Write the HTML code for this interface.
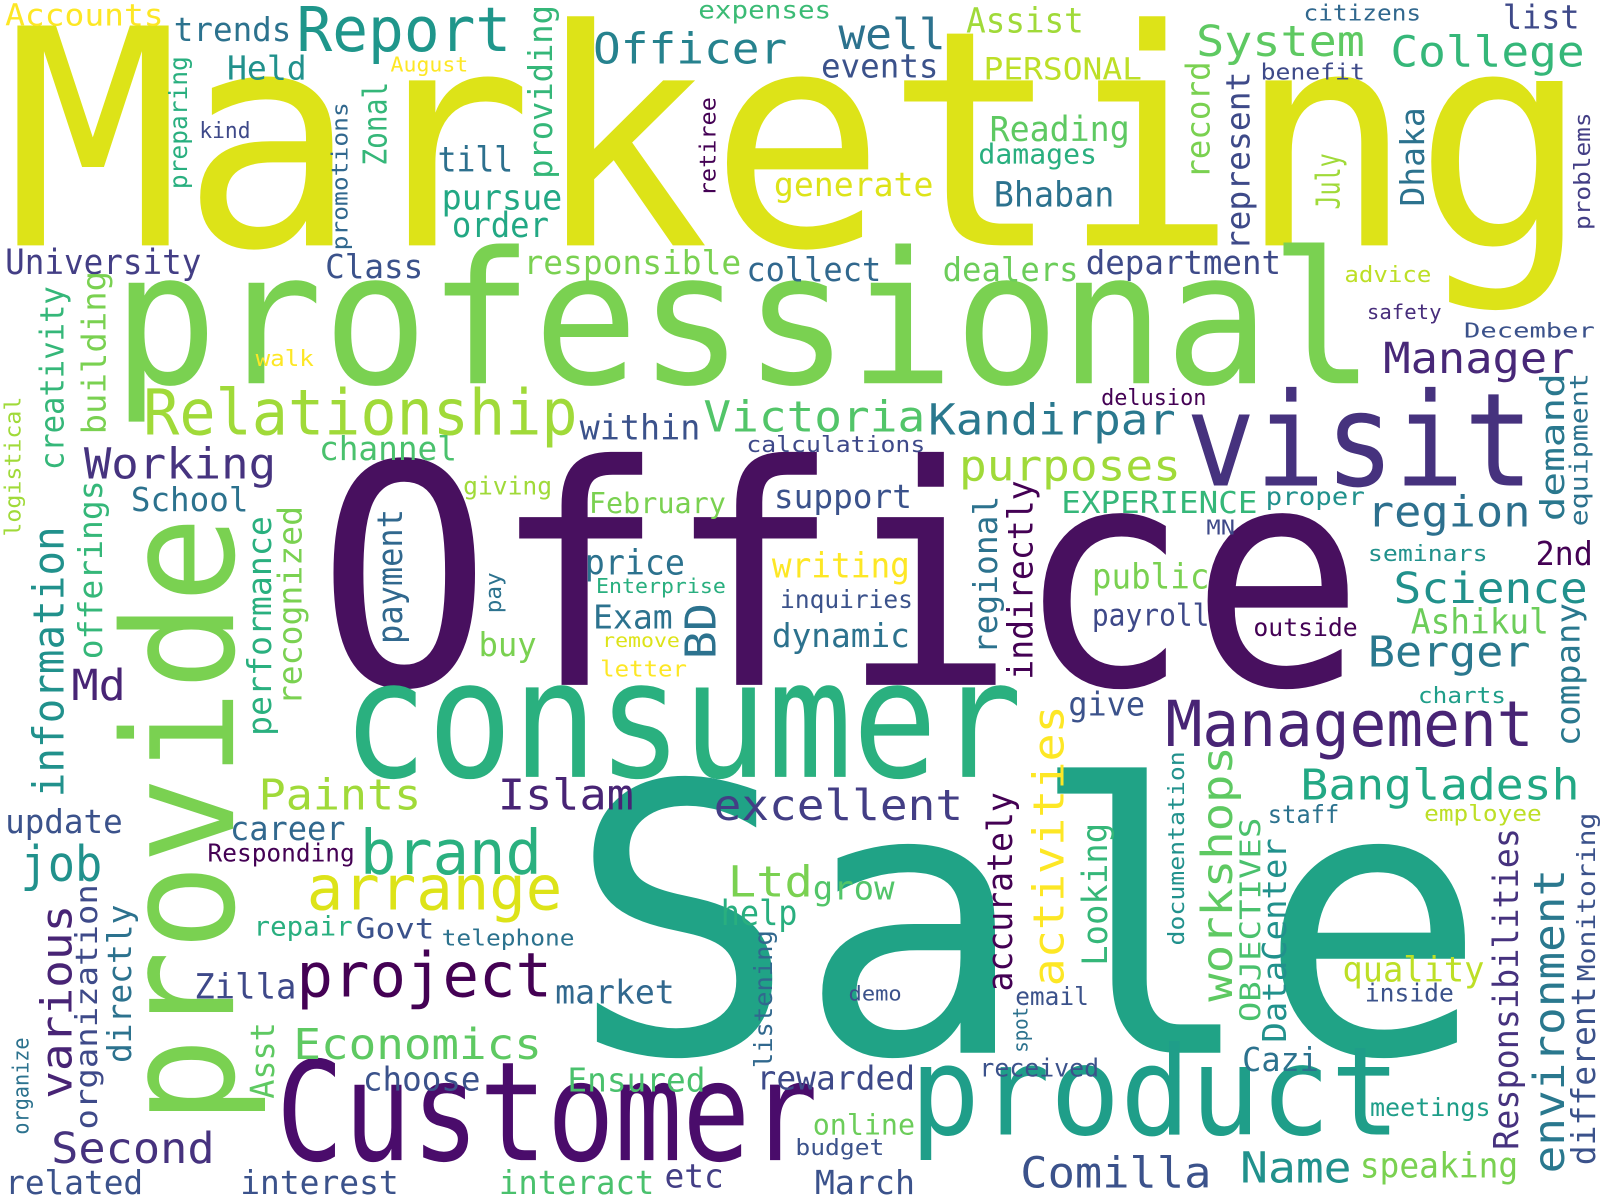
<!DOCTYPE html>
<html><head><meta charset="utf-8"><style>
html,body{margin:0;padding:0;background:#fff;width:1600px;height:1200px;overflow:hidden}
svg{display:block}
text{font-family:"DejaVu Sans Mono","Liberation Mono",monospace}
</style></head><body>
<svg width="1600" height="1200" viewBox="0 0 1565 1174" preserveAspectRatio="none">
<rect width="1565" height="1174" fill="#fff"/>
<g>
<text x="5" y="240" font-size="295" textLength="1550" lengthAdjust="spacingAndGlyphs" fill="#dde318">Marketing</text>
<text x="310" y="670" font-size="300" textLength="1025" lengthAdjust="spacingAndGlyphs" fill="#48105f">Office</text>
<text x="555" y="1030" font-size="365" textLength="900" lengthAdjust="spacingAndGlyphs" fill="#20a386">Sale</text>
<text x="110" y="375" font-size="180" textLength="1235" lengthAdjust="spacingAndGlyphs" fill="#7ad151">professional</text>
<text x="335" y="760" font-size="160" textLength="665" lengthAdjust="spacingAndGlyphs" fill="#2ab07f">consumer</text>
<text x="270" y="1135" font-size="135" textLength="530" lengthAdjust="spacingAndGlyphs" fill="#4a0c6b">Customer</text>
<text x="890" y="1110" font-size="120" textLength="480" lengthAdjust="spacingAndGlyphs" fill="#1f9e89">product</text>
<text x="1160" y="475" font-size="127" textLength="340" lengthAdjust="spacingAndGlyphs" fill="#46327e">visit</text>
<text x="1140" y="730" font-size="62" textLength="360" lengthAdjust="spacingAndGlyphs" fill="#482475">Management</text>
<text x="140" y="425" font-size="62" textLength="425" lengthAdjust="spacingAndGlyphs" fill="#a0da39">Relationship</text>
<text x="290" y="50" font-size="60" textLength="210" lengthAdjust="spacingAndGlyphs" fill="#1f968b">Report</text>
<text x="580" y="62" font-size="42" textLength="190" lengthAdjust="spacingAndGlyphs" fill="#26828e">Officer</text>
<text x="820" y="48" font-size="42" textLength="105" lengthAdjust="spacingAndGlyphs" fill="#2c728e">well</text>
<text x="945" y="32" font-size="34" textLength="115" lengthAdjust="spacingAndGlyphs" fill="#a0da39">Assist</text>
<text x="683" y="18" font-size="24" textLength="130" lengthAdjust="spacingAndGlyphs" fill="#3bbb75">expenses</text>
<text x="1275" y="20" font-size="22" textLength="115" lengthAdjust="spacingAndGlyphs" fill="#31688e">citizens</text>
<text x="1470" y="28" font-size="32" textLength="75" lengthAdjust="spacingAndGlyphs" fill="#3e4989">list</text>
<text x="1170" y="55" font-size="42" textLength="165" lengthAdjust="spacingAndGlyphs" fill="#5ec962">System</text>
<text x="1360" y="65" font-size="42" textLength="190" lengthAdjust="spacingAndGlyphs" fill="#35b779">College</text>
<text x="5" y="25" font-size="30" textLength="155" lengthAdjust="spacingAndGlyphs" fill="#fde725">Accounts</text>
<text x="170" y="40" font-size="32" textLength="115" lengthAdjust="spacingAndGlyphs" fill="#2c728e">trends</text>
<text x="222" y="78" font-size="32" textLength="78" lengthAdjust="spacingAndGlyphs" fill="#21918c">Held</text>
<text x="382" y="70" font-size="20" textLength="76" lengthAdjust="spacingAndGlyphs" fill="#fde725">August</text>
<text x="803" y="76" font-size="32" textLength="115" lengthAdjust="spacingAndGlyphs" fill="#3b528b">events</text>
<text x="962" y="78" font-size="30" textLength="155" lengthAdjust="spacingAndGlyphs" fill="#bddf26">PERSONAL</text>
<text x="1233" y="78" font-size="22" textLength="102" lengthAdjust="spacingAndGlyphs" fill="#3e4a89">benefit</text>
<text x="195" y="135" font-size="22" textLength="50" lengthAdjust="spacingAndGlyphs" fill="#3e4989">kind</text>
<text x="428" y="168" font-size="34" textLength="74" lengthAdjust="spacingAndGlyphs" fill="#2d708e">till</text>
<text x="968" y="138" font-size="34" textLength="137" lengthAdjust="spacingAndGlyphs" fill="#5ec962">Reading</text>
<text x="957" y="160" font-size="27" textLength="116" lengthAdjust="spacingAndGlyphs" fill="#29af7f">damages</text>
<text x="757" y="192" font-size="32" textLength="156" lengthAdjust="spacingAndGlyphs" fill="#dde318">generate</text>
<text x="972" y="202" font-size="34" textLength="118" lengthAdjust="spacingAndGlyphs" fill="#2c728e">Bhaban</text>
<text x="432" y="205" font-size="34" textLength="118" lengthAdjust="spacingAndGlyphs" fill="#22a884">pursue</text>
<text x="442" y="232" font-size="34" textLength="95" lengthAdjust="spacingAndGlyphs" fill="#22a884">order</text>
<text x="5" y="268" font-size="34" textLength="192" lengthAdjust="spacingAndGlyphs" fill="#433e85">University</text>
<text x="318" y="272" font-size="32" textLength="96" lengthAdjust="spacingAndGlyphs" fill="#3b528b">Class</text>
<text x="512" y="268" font-size="32" textLength="213" lengthAdjust="spacingAndGlyphs" fill="#7ad151">responsible</text>
<text x="730" y="275" font-size="32" textLength="132" lengthAdjust="spacingAndGlyphs" fill="#31688e">collect</text>
<text x="922" y="275" font-size="32" textLength="133" lengthAdjust="spacingAndGlyphs" fill="#6ccd5a">dealers</text>
<text x="1062" y="268" font-size="32" textLength="191" lengthAdjust="spacingAndGlyphs" fill="#3e4a89">department</text>
<text x="1315" y="276" font-size="22" textLength="85" lengthAdjust="spacingAndGlyphs" fill="#bddf26">advice</text>
<text x="1337" y="312" font-size="20" textLength="73" lengthAdjust="spacingAndGlyphs" fill="#472d7b">safety</text>
<text x="1432" y="330" font-size="20" textLength="128" lengthAdjust="spacingAndGlyphs" fill="#3b528b">December</text>
<text x="1353" y="365" font-size="42" textLength="187" lengthAdjust="spacingAndGlyphs" fill="#482878">Manager</text>
<text x="250" y="358" font-size="22" textLength="57" lengthAdjust="spacingAndGlyphs" fill="#fde725">walk</text>
<text x="1077" y="396" font-size="22" textLength="103" lengthAdjust="spacingAndGlyphs" fill="#440154">delusion</text>
<text x="908" y="425" font-size="42" textLength="242" lengthAdjust="spacingAndGlyphs" fill="#2a788e">Kandirpar</text>
<text x="688" y="422" font-size="42" textLength="217" lengthAdjust="spacingAndGlyphs" fill="#52c569">Victoria</text>
<text x="567" y="430" font-size="34" textLength="118" lengthAdjust="spacingAndGlyphs" fill="#3b528b">within</text>
<text x="730" y="442" font-size="22" textLength="175" lengthAdjust="spacingAndGlyphs" fill="#3e4989">calculations</text>
<text x="312" y="450" font-size="32" textLength="135" lengthAdjust="spacingAndGlyphs" fill="#4ac16d">channel</text>
<text x="82" y="468" font-size="42" textLength="188" lengthAdjust="spacingAndGlyphs" fill="#46337f">Working</text>
<text x="938" y="470" font-size="42" textLength="217" lengthAdjust="spacingAndGlyphs" fill="#a0da39">purposes</text>
<text x="453" y="484" font-size="24" textLength="87" lengthAdjust="spacingAndGlyphs" fill="#a0da39">giving</text>
<text x="128" y="500" font-size="32" textLength="115" lengthAdjust="spacingAndGlyphs" fill="#2c728e">School</text>
<text x="576" y="502" font-size="28" textLength="134" lengthAdjust="spacingAndGlyphs" fill="#7ad151">February</text>
<text x="757" y="497" font-size="32" textLength="135" lengthAdjust="spacingAndGlyphs" fill="#3b528b">support</text>
<text x="1038" y="502" font-size="30" textLength="192" lengthAdjust="spacingAndGlyphs" fill="#35b779">EXPERIENCE</text>
<text x="1238" y="494" font-size="24" textLength="97" lengthAdjust="spacingAndGlyphs" fill="#21918c">proper</text>
<text x="1337" y="515" font-size="42" textLength="160" lengthAdjust="spacingAndGlyphs" fill="#2d708e">region</text>
<text x="1180" y="523" font-size="20" textLength="28" lengthAdjust="spacingAndGlyphs" fill="#3e4989">MN</text>
<text x="1338" y="549" font-size="22" textLength="117" lengthAdjust="spacingAndGlyphs" fill="#21918c">seminars</text>
<text x="1502" y="553" font-size="32" textLength="56" lengthAdjust="spacingAndGlyphs" fill="#440154">2nd</text>
<text x="755" y="565" font-size="34" textLength="135" lengthAdjust="spacingAndGlyphs" fill="#fde725">writing</text>
<text x="572" y="562" font-size="34" textLength="98" lengthAdjust="spacingAndGlyphs" fill="#2c728e">price</text>
<text x="1068" y="576" font-size="34" textLength="115" lengthAdjust="spacingAndGlyphs" fill="#7ad151">public</text>
<text x="583" y="580" font-size="20" textLength="127" lengthAdjust="spacingAndGlyphs" fill="#29af7f">Enterprise</text>
<text x="763" y="595" font-size="24" textLength="130" lengthAdjust="spacingAndGlyphs" fill="#3b528b">inquiries</text>
<text x="1363" y="590" font-size="42" textLength="190" lengthAdjust="spacingAndGlyphs" fill="#21918c">Science</text>
<text x="580" y="615" font-size="32" textLength="78" lengthAdjust="spacingAndGlyphs" fill="#2c728e">Exam</text>
<text x="589" y="633" font-size="18" textLength="76" lengthAdjust="spacingAndGlyphs" fill="#dde318">remove</text>
<text x="755" y="633" font-size="32" textLength="135" lengthAdjust="spacingAndGlyphs" fill="#2c728e">dynamic</text>
<text x="1068" y="612" font-size="30" textLength="115" lengthAdjust="spacingAndGlyphs" fill="#3e4989">payroll</text>
<text x="1380" y="620" font-size="34" textLength="135" lengthAdjust="spacingAndGlyphs" fill="#6ccd5a">Ashikul</text>
<text x="1226" y="622" font-size="24" textLength="102" lengthAdjust="spacingAndGlyphs" fill="#440154">outside</text>
<text x="468" y="642" font-size="32" textLength="57" lengthAdjust="spacingAndGlyphs" fill="#7ad151">buy</text>
<text x="587" y="662" font-size="22" textLength="85" lengthAdjust="spacingAndGlyphs" fill="#fde725">letter</text>
<text x="1338" y="652" font-size="42" textLength="159" lengthAdjust="spacingAndGlyphs" fill="#2a788e">Berger</text>
<text x="70" y="685" font-size="42" textLength="53" lengthAdjust="spacingAndGlyphs" fill="#482475">Md</text>
<text x="1387" y="688" font-size="22" textLength="86" lengthAdjust="spacingAndGlyphs" fill="#1f9e89">charts</text>
<text x="1045" y="700" font-size="32" textLength="75" lengthAdjust="spacingAndGlyphs" fill="#3b528b">give</text>
<text x="253" y="792" font-size="42" textLength="159" lengthAdjust="spacingAndGlyphs" fill="#a0da39">Paints</text>
<text x="487" y="792" font-size="42" textLength="133" lengthAdjust="spacingAndGlyphs" fill="#482475">Islam</text>
<text x="698" y="802" font-size="42" textLength="244" lengthAdjust="spacingAndGlyphs" fill="#433e85">excellent</text>
<text x="1272" y="782" font-size="42" textLength="273" lengthAdjust="spacingAndGlyphs" fill="#22a884">Bangladesh</text>
<text x="5" y="815" font-size="32" textLength="115" lengthAdjust="spacingAndGlyphs" fill="#3b528b">update</text>
<text x="1240" y="805" font-size="24" textLength="70" lengthAdjust="spacingAndGlyphs" fill="#2c728e">staff</text>
<text x="1393" y="803" font-size="22" textLength="115" lengthAdjust="spacingAndGlyphs" fill="#bddf26">employee</text>
<text x="225" y="822" font-size="32" textLength="113" lengthAdjust="spacingAndGlyphs" fill="#31688e">career</text>
<text x="352" y="855" font-size="60" textLength="178" lengthAdjust="spacingAndGlyphs" fill="#2ab07f">brand</text>
<text x="203" y="843" font-size="24" textLength="144" lengthAdjust="spacingAndGlyphs" fill="#440154">Responding</text>
<text x="20" y="862" font-size="48" textLength="80" lengthAdjust="spacingAndGlyphs" fill="#21918c">job</text>
<text x="300" y="890" font-size="60" textLength="250" lengthAdjust="spacingAndGlyphs" fill="#dde318">arrange</text>
<text x="712" y="877" font-size="42" textLength="83" lengthAdjust="spacingAndGlyphs" fill="#7ad151">Ltd</text>
<text x="795" y="880" font-size="32" textLength="80" lengthAdjust="spacingAndGlyphs" fill="#52c569">grow</text>
<text x="705" y="905" font-size="34" textLength="75" lengthAdjust="spacingAndGlyphs" fill="#29af7f">help</text>
<text x="248" y="915" font-size="26" textLength="97" lengthAdjust="spacingAndGlyphs" fill="#29af7f">repair</text>
<text x="348" y="918" font-size="28" textLength="77" lengthAdjust="spacingAndGlyphs" fill="#3b528b">Govt</text>
<text x="432" y="925" font-size="22" textLength="130" lengthAdjust="spacingAndGlyphs" fill="#2c728e">telephone</text>
<text x="290" y="975" font-size="60" textLength="250" lengthAdjust="spacingAndGlyphs" fill="#440154">project</text>
<text x="190" y="977" font-size="34" textLength="100" lengthAdjust="spacingAndGlyphs" fill="#3e4989">Zilla</text>
<text x="543" y="982" font-size="32" textLength="117" lengthAdjust="spacingAndGlyphs" fill="#31688e">market</text>
<text x="830" y="979" font-size="20" textLength="52" lengthAdjust="spacingAndGlyphs" fill="#3b528b">demo</text>
<text x="1313" y="960" font-size="34" textLength="139" lengthAdjust="spacingAndGlyphs" fill="#bddf26">quality</text>
<text x="1335" y="980" font-size="24" textLength="87" lengthAdjust="spacingAndGlyphs" fill="#3b528b">inside</text>
<text x="993" y="983" font-size="24" textLength="72" lengthAdjust="spacingAndGlyphs" fill="#3b528b">email</text>
<text x="287" y="1036" font-size="42" textLength="243" lengthAdjust="spacingAndGlyphs" fill="#5ec962">Economics</text>
<text x="355" y="1067" font-size="32" textLength="115" lengthAdjust="spacingAndGlyphs" fill="#3b528b">choose</text>
<text x="555" y="1068" font-size="32" textLength="135" lengthAdjust="spacingAndGlyphs" fill="#4ac16d">Ensured</text>
<text x="740" y="1066" font-size="32" textLength="155" lengthAdjust="spacingAndGlyphs" fill="#3e4a89">rewarded</text>
<text x="958" y="1053" font-size="24" textLength="117" lengthAdjust="spacingAndGlyphs" fill="#3b528b">received</text>
<text x="1215" y="1048" font-size="32" textLength="75" lengthAdjust="spacingAndGlyphs" fill="#2c728e">Cazi</text>
<text x="1340" y="1092" font-size="24" textLength="118" lengthAdjust="spacingAndGlyphs" fill="#1f9e89">meetings</text>
<text x="795" y="1110" font-size="28" textLength="100" lengthAdjust="spacingAndGlyphs" fill="#6ccd5a">online</text>
<text x="778" y="1130" font-size="22" textLength="87" lengthAdjust="spacingAndGlyphs" fill="#3b528b">budget</text>
<text x="50" y="1138" font-size="42" textLength="160" lengthAdjust="spacingAndGlyphs" fill="#46327e">Second</text>
<text x="998" y="1162" font-size="42" textLength="187" lengthAdjust="spacingAndGlyphs" fill="#3b528b">Comilla</text>
<text x="1213" y="1157" font-size="42" textLength="109" lengthAdjust="spacingAndGlyphs" fill="#21918c">Name</text>
<text x="1330" y="1152" font-size="34" textLength="155" lengthAdjust="spacingAndGlyphs" fill="#7ad151">speaking</text>
<text x="5" y="1168" font-size="32" textLength="135" lengthAdjust="spacingAndGlyphs" fill="#3b528b">related</text>
<text x="235" y="1168" font-size="32" textLength="155" lengthAdjust="spacingAndGlyphs" fill="#3b528b">interest</text>
<text x="488" y="1168" font-size="32" textLength="152" lengthAdjust="spacingAndGlyphs" fill="#4ac16d">interact</text>
<text x="650" y="1162" font-size="32" textLength="58" lengthAdjust="spacingAndGlyphs" fill="#433e85">etc</text>
<text x="797" y="1168" font-size="32" textLength="98" lengthAdjust="spacingAndGlyphs" fill="#3b528b">March</text>

<text transform="translate(228,1100) rotate(-90)" font-size="150" textLength="595" lengthAdjust="spacingAndGlyphs" fill="#7ad151">provide</text>
<text transform="translate(540,175) rotate(-90)" font-size="32" textLength="170" lengthAdjust="spacingAndGlyphs" fill="#35b779">providing</text>
<text transform="translate(183,185) rotate(-90)" font-size="24" textLength="130" lengthAdjust="spacingAndGlyphs" fill="#29af7f">preparing</text>
<text transform="translate(340,245) rotate(-90)" font-size="22" textLength="145" lengthAdjust="spacingAndGlyphs" fill="#31688e">promotions</text>
<text transform="translate(378,162) rotate(-90)" font-size="32" textLength="82" lengthAdjust="spacingAndGlyphs" fill="#35b779">Zonal</text>
<text transform="translate(700,192) rotate(-90)" font-size="22" textLength="97" lengthAdjust="spacingAndGlyphs" fill="#440154">retiree</text>
<text transform="translate(1183,175) rotate(-90)" font-size="32" textLength="115" lengthAdjust="spacingAndGlyphs" fill="#7ad151">record</text>
<text transform="translate(1222,245) rotate(-90)" font-size="32" textLength="175" lengthAdjust="spacingAndGlyphs" fill="#3e4a89">represent</text>
<text transform="translate(1393,202) rotate(-90)" font-size="32" textLength="97" lengthAdjust="spacingAndGlyphs" fill="#2c728e">Dhaka</text>
<text transform="translate(1310,205) rotate(-90)" font-size="32" textLength="55" lengthAdjust="spacingAndGlyphs" fill="#a0da39">July</text>
<text transform="translate(1555,225) rotate(-90)" font-size="22" textLength="115" lengthAdjust="spacingAndGlyphs" fill="#433e85">problems</text>
<text transform="translate(103,425) rotate(-90)" font-size="32" textLength="160" lengthAdjust="spacingAndGlyphs" fill="#7ad151">building</text>
<text transform="translate(62,460) rotate(-90)" font-size="32" textLength="180" lengthAdjust="spacingAndGlyphs" fill="#35b779">creativity</text>
<text transform="translate(20,525) rotate(-90)" font-size="22" textLength="137" lengthAdjust="spacingAndGlyphs" fill="#a0da39">logistical</text>
<text transform="translate(62,780) rotate(-90)" font-size="42" textLength="265" lengthAdjust="spacingAndGlyphs" fill="#21918c">information</text>
<text transform="translate(100,645) rotate(-90)" font-size="32" textLength="175" lengthAdjust="spacingAndGlyphs" fill="#35b779">offerings</text>
<text transform="translate(265,720) rotate(-90)" font-size="32" textLength="215" lengthAdjust="spacingAndGlyphs" fill="#2ab07f">performance</text>
<text transform="translate(295,690) rotate(-90)" font-size="32" textLength="195" lengthAdjust="spacingAndGlyphs" fill="#7ad151">recognized</text>
<text transform="translate(393,630) rotate(-90)" font-size="34" textLength="132" lengthAdjust="spacingAndGlyphs" fill="#31688e">payment</text>
<text transform="translate(700,645) rotate(-90)" font-size="42" textLength="55" lengthAdjust="spacingAndGlyphs" fill="#2c728e">BD</text>
<text transform="translate(490,600) rotate(-90)" font-size="22" textLength="40" lengthAdjust="spacingAndGlyphs" fill="#2c728e">pay</text>
<text transform="translate(975,640) rotate(-90)" font-size="32" textLength="155" lengthAdjust="spacingAndGlyphs" fill="#2c728e">regional</text>
<text transform="translate(1010,665) rotate(-90)" font-size="34" textLength="195" lengthAdjust="spacingAndGlyphs" fill="#440154">indirectly</text>
<text transform="translate(1040,965) rotate(-90)" font-size="42" textLength="275" lengthAdjust="spacingAndGlyphs" fill="#fde725">activities</text>
<text transform="translate(990,970) rotate(-90)" font-size="34" textLength="195" lengthAdjust="spacingAndGlyphs" fill="#440154">accurately</text>
<text transform="translate(1083,945) rotate(-90)" font-size="34" textLength="140" lengthAdjust="spacingAndGlyphs" fill="#35b779">Looking</text>
<text transform="translate(1158,925) rotate(-90)" font-size="22" textLength="190" lengthAdjust="spacingAndGlyphs" fill="#21918c">documentation</text>
<text transform="translate(1205,980) rotate(-90)" font-size="42" textLength="250" lengthAdjust="spacingAndGlyphs" fill="#5ec962">workshops</text>
<text transform="translate(1233,1000) rotate(-90)" font-size="28" textLength="200" lengthAdjust="spacingAndGlyphs" fill="#4ac16d">OBJECTIVES</text>
<text transform="translate(1258,1020) rotate(-90)" font-size="32" textLength="200" lengthAdjust="spacingAndGlyphs" fill="#21918c">DataCenter</text>
<text transform="translate(1530,510) rotate(-90)" font-size="32" textLength="145" lengthAdjust="spacingAndGlyphs" fill="#2a788e">demand</text>
<text transform="translate(1553,515) rotate(-90)" font-size="24" textLength="150" lengthAdjust="spacingAndGlyphs" fill="#2c728e">equipment</text>
<text transform="translate(1545,730) rotate(-90)" font-size="32" textLength="140" lengthAdjust="spacingAndGlyphs" fill="#2a788e">company</text>
<text transform="translate(1485,1125) rotate(-90)" font-size="34" textLength="315" lengthAdjust="spacingAndGlyphs" fill="#46327e">Responsibilities</text>
<text transform="translate(1530,1148) rotate(-90)" font-size="42" textLength="298" lengthAdjust="spacingAndGlyphs" fill="#2a788e">environment</text>
<text transform="translate(1560,1140) rotate(-90)" font-size="32" textLength="175" lengthAdjust="spacingAndGlyphs" fill="#3b528b">different</text>
<text transform="translate(1560,960) rotate(-90)" font-size="24" textLength="165" lengthAdjust="spacingAndGlyphs" fill="#3b528b">Monitoring</text>
<text transform="translate(70,1075) rotate(-90)" font-size="42" textLength="190" lengthAdjust="spacingAndGlyphs" fill="#482475">various</text>
<text transform="translate(95,1105) rotate(-90)" font-size="30" textLength="240" lengthAdjust="spacingAndGlyphs" fill="#3e4a89">organization</text>
<text transform="translate(128,1040) rotate(-90)" font-size="32" textLength="155" lengthAdjust="spacingAndGlyphs" fill="#2c728e">directly</text>
<text transform="translate(268,1075) rotate(-90)" font-size="32" textLength="75" lengthAdjust="spacingAndGlyphs" fill="#5ec962">Asst</text>
<text transform="translate(28,1110) rotate(-90)" font-size="22" textLength="95" lengthAdjust="spacingAndGlyphs" fill="#2c728e">organize</text>
<text transform="translate(755,1045) rotate(-90)" font-size="24" textLength="135" lengthAdjust="spacingAndGlyphs" fill="#31688e">listening</text>
<text transform="translate(1005,1030) rotate(-90)" font-size="20" textLength="45" lengthAdjust="spacingAndGlyphs" fill="#2c728e">spot</text>
</g>
</svg>
</body></html>
